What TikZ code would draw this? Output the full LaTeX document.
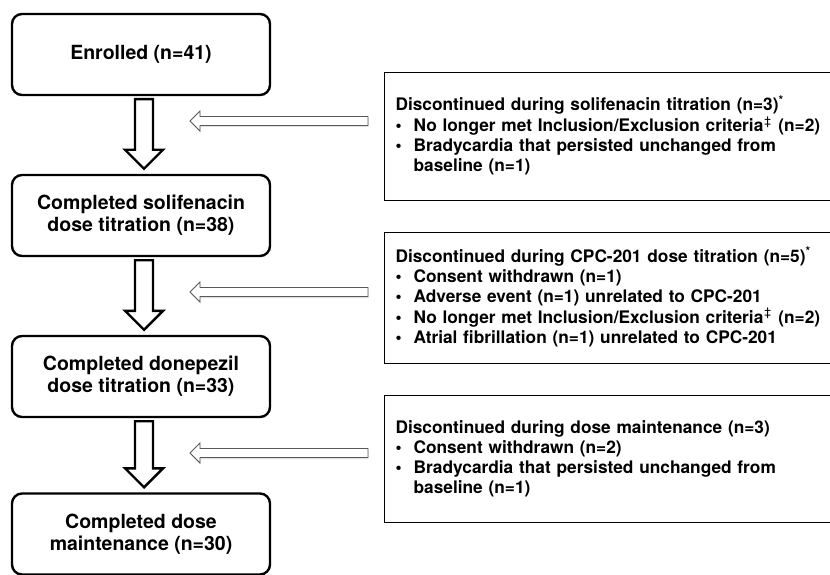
\documentclass[tikz,border=0pt]{standalone}
\usepackage{fontspec}
\setmainfont{TeX Gyre Heros}
\usetikzlibrary{calc,shadows}

\tikzset{
  stage/.style={
    draw,
    rounded corners=10pt,
    line width=2.4pt,
    minimum width=258pt,
    minimum height=81pt,
    align=center,
    font=\fontsize{19.5}{22}\selectfont\bfseries
  },
  reason/.style={
    draw,
    line width=1.1pt,
    anchor=north west,
    minimum height=128pt,
    text width=440pt,
    inner xsep=11pt,
    align=left,
    font=\fontsize{17.3}{20}\selectfont\bfseries
  },
  flow arrow/.style={
    draw,
    fill=white,
    line width=2.4pt,
    line join=miter
  },
  side arrow/.style={
    draw=black!65,
    fill=white,
    line width=0.8pt,
    drop shadow={shadow xshift=0.5pt, shadow yshift=-1.5pt, opacity=0.25}
  },
}

% hollow block arrow from the bottom of one stage to the top of the next
\newcommand\flowarrow[2]{%
  \path[flow arrow] let \p1=($(#1.south)+(3,0)$), \p2=(#2.north) in
    (\x1-9pt,\y1-3pt) -- (\x1+9pt,\y1-3pt) -- (\x1+9pt,\y2+24pt)
    -- (\x1+19pt,\y2+24pt) -- (\x1,\y2+5pt) -- (\x1-19pt,\y2+24pt)
    -- (\x1-9pt,\y2+24pt) -- cycle;}

% thin hollow arrow pointing left
\newcommand\sidearrow[2]{%
  \path[side arrow] let \p1=(#1), \p2=(#2) in
    (\x1,\y1+4.5pt) -- (\x2+10pt,\y1+4.5pt) -- (\x2+10pt,\y1+10pt)
    -- (\x2,\y1) -- (\x2+10pt,\y1-10pt) -- (\x2+10pt,\y1-4.5pt)
    -- (\x1,\y1-4.5pt) -- cycle;}

\newcommand\ddagmark{\kern1pt\textsuperscript{\mdseries‡}\kern1pt}

\begin{document}
\begin{tikzpicture}[x=1pt, y=-1pt]

  \useasboundingbox (0,0) rectangle (830,575);
  \clip (0,0) rectangle (830,575);

  \foreach \n/\y/\t in {enrolled/54.5/{Enrolled (n=41)},
                        solif/215.5/{Completed solifenacin\\dose titration (n=38)},
                        donep/376.5/{Completed donepezil\\dose titration (n=33)},
                        maint/534/{Completed dose\\maintenance (n=30)}}
    \node [stage] (\n) at (141,\y) {\t};

  \foreach \a/\b in {enrolled/solif, solif/donep, donep/maint}
    \flowarrow{\a}{\b};

  \node [reason] (discSolif) at (384,72) {%
    \begin{tabular}{@{}l@{\hspace{12pt}}l@{}}
      \multicolumn{2}{@{}l@{}}{Discontinued during solifenacin titration (n=3)\textsuperscript{*}}\\
      \textbullet & No longer met Inclusion/Exclusion criteria\ddagmark{} (n=2)\\
      \textbullet & Bradycardia that persisted unchanged from\\
                  & baseline (n=1)
    \end{tabular}};

  \node [reason, minimum height=131pt] (discCPC) at (384,232) {%
    \begin{tabular}{@{}l@{\hspace{12pt}}l@{}}
      \multicolumn{2}{@{}l@{}}{Discontinued during CPC-201 dose titration (n=5)\textsuperscript{*}}\\
      \textbullet & Consent withdrawn (n=1)\\
      \textbullet & Adverse event (n=1) unrelated to CPC-201\\
      \textbullet & No longer met Inclusion/Exclusion criteria\ddagmark{} (n=2)\\
      \textbullet & Atrial fibrillation (n=1) unrelated to CPC-201
    \end{tabular}};

  \node [reason, minimum height=127pt] (discMaint) at (384,395) {%
    \begin{tabular}{@{}l@{\hspace{12pt}}l@{}}
      \multicolumn{2}{@{}l@{}}{Discontinued during dose maintenance (n=3)}\\
      \textbullet & Consent withdrawn (n=2)\\
      \textbullet & Bradycardia that persisted unchanged from\\
                  & baseline (n=1)
    \end{tabular}};

  \foreach \k/\y in {Solif/121, CPC/292, Maint/453} {
    \coordinate (out\k) at (368,\y);
    \coordinate (in\k) at (190,\y);
  }
  \foreach \k in {Solif, CPC, Maint}
    \sidearrow{out\k}{in\k};

\end{tikzpicture}
\end{document}
